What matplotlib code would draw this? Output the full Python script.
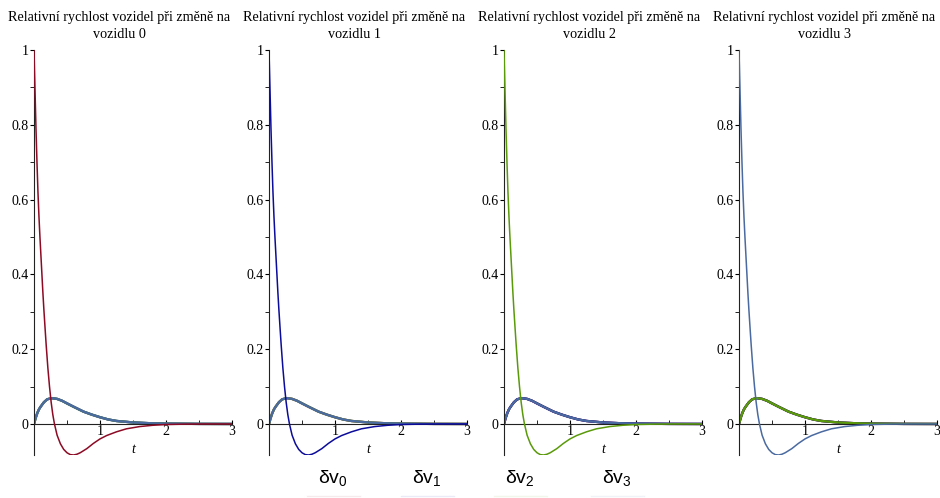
'''
Relative vehicle speed after a change at one vehicle, four panels.
'''
import numpy as np
import matplotlib.pyplot as plt

# time samples and read-off values for the disturbed vehicle
t_main = [0, 0.01, 0.02, 0.03, 0.045, 0.06, 0.075, 0.09, 0.105, 0.12, 0.135,
          0.15, 0.17, 0.185, 0.21, 0.235, 0.26, 0.285, 0.31, 0.35, 0.4, 0.45,
          0.5, 0.55, 0.6, 0.65, 0.7, 0.8, 0.9, 1.0, 1.1, 1.25, 1.4, 1.6, 1.8,
          2.0, 2.3, 2.6, 3.0]
v_main = [1.0, 0.93, 0.86, 0.79, 0.7, 0.62, 0.555, 0.5, 0.45, 0.4, 0.35,
          0.305, 0.25, 0.21, 0.15, 0.1, 0.058, 0.025, 0.0, -0.03, -0.053, -0.068,
          -0.077, -0.082, -0.083, -0.081, -0.077, -0.066, -0.052, -0.04, -0.031,
          -0.021, -0.013, -0.007, -0.0035, -0.0015, -0.0004, 0.0, 0.0]

# response of the other vehicles
t_other = [0, 0.025, 0.05, 0.075, 0.1, 0.15, 0.2, 0.27, 0.35, 0.425, 0.5,
           0.6, 0.75, 0.875, 1.0, 1.125, 1.25, 1.5, 1.75, 2.0, 2.5, 3.0]
v_other = [0, 0.016, 0.029, 0.039, 0.046, 0.058, 0.066, 0.069, 0.067, 0.062,
           0.055, 0.046, 0.033, 0.025, 0.018, 0.012, 0.008, 0.004, 0.002,
           0.001, 0.0002, 0.0]

colors = ['#8c0a24', '#0c0c9a', '#5a9a0a', '#4a6aa0']
labels = [r'$\delta$v$_0$', r'$\delta$v$_1$', r'$\delta$v$_2$', r'$\delta$v$_3$']
titles = ['Relativní rychlost vozidel při změně na\nvozidlu %d' % i for i in range(4)]

plt.rcParams['mathtext.fontset'] = 'custom'
plt.rcParams['mathtext.rm'] = 'Liberation Sans'
plt.rcParams['mathtext.it'] = 'Liberation Sans'
plt.rcParams['mathtext.bf'] = 'Liberation Sans'

fig = plt.figure(figsize=(9.4, 4.98), dpi=100)

for i in range(4):
    ax = fig.add_axes([(34 + 235 * i) / 940, 43 / 498, 198 / 940, 405 / 498])
    for j in range(4):
        if j == i:
            ax.plot(t_main, v_main, color=colors[j], lw=1.1, zorder=3)
        else:
            ax.plot(t_other, v_other, color=colors[j], lw=1.7, zorder=2)
    ax.set_xlim(0, 3)
    ax.set_ylim(-0.083, 1.0)
    ax.spines['right'].set_visible(False)
    ax.spines['top'].set_visible(False)
    ax.spines['bottom'].set_position(('data', 0))
    ax.spines['left'].set_color('#222222')
    ax.spines['bottom'].set_color('#222222')
    ax.set_xticks([1, 2, 3])
    ax.set_xticks([0.5, 1.5, 2.5], minor=True)
    ax.set_yticks([0, 0.2, 0.4, 0.6, 0.8, 1.0])
    ax.set_yticklabels(['0', '0.2', '0.4', '0.6', '0.8', '1'])
    ax.set_yticks([0.1, 0.3, 0.5, 0.7, 0.9], minor=True)
    ax.tick_params(axis='x', which='both', direction='in', length=3,
                   pad=1, labelsize=10)
    ax.tick_params(axis='y', which='both', direction='out', length=3,
                   pad=1, labelsize=10)
    for lab in ax.get_xticklabels() + ax.get_yticklabels():
        lab.set_family('Liberation Serif')
    ax.text(1.5, -0.068, 't', style='italic', family='Liberation Serif',
            fontsize=10, ha='center', va='center')
    fig.text((119 + 235 * i) / 940, 1 - 26 / 498, titles[i],
             family='Liberation Serif', fontsize=10.2, ha='center', va='center',
             linespacing=1.5)

# legend along the bottom
leg_x = [333, 427, 520, 617]
for i in range(4):
    fig.text(leg_x[i] / 940, 1 - 478 / 498, labels[i], family='Liberation Sans',
             fontsize=14, ha='center', va='center')
    fig.add_artist(plt.Line2D([(leg_x[i] - 26) / 940, (leg_x[i] + 27) / 940],
                              [1 - 496 / 498, 1 - 496 / 498],
                              color=colors[i], alpha=0.08, lw=1))

plt.savefig('out.png', dpi=100)
